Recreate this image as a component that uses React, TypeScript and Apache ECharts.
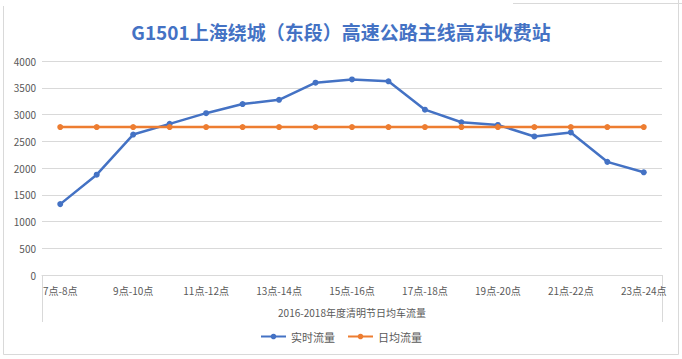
import React, { useEffect, useRef } from "react";
import * as echarts from "echarts";

const categories = [
  "7点-8点", "8点-9点", "9点-10点", "10点-11点", "11点-12点", "12点-13点",
  "13点-14点", "14点-15点", "15点-16点", "16点-17点", "17点-18点", "18点-19点",
  "19点-20点", "20点-21点", "21点-22点", "22点-23点", "23点-24点",
];
const realtimeFlow = [1325, 1875, 2625, 2825, 3025, 3195, 3275, 3595, 3655, 3620, 3090, 2855, 2805, 2590, 2665, 2115, 1920];
const dailyAvgFlow = [2765, 2765, 2765, 2765, 2765, 2765, 2765, 2765, 2765, 2765, 2765, 2765, 2765, 2765, 2765, 2765, 2765];
const seriesNames = ["实时流量", "日均流量"];
const titleText = "G1501上海绕城（东段）高速公路主线高东收费站";
const xAxisTitle = "2016-2018年度清明节日均车流量";

const FONT = "'Noto Sans CJK SC', 'Noto Sans', sans-serif";

export default function App() {
  const ref = useRef<HTMLDivElement>(null);
  useEffect(() => {
    if (!ref.current) return;
    const chart = echarts.init(ref.current, undefined, { renderer: "svg" });
    const grey = "#d9d9d9";
    chart.setOption({
      animation: false,
      backgroundColor: "#ffffff",
      textStyle: { fontFamily: FONT },
      title: {
        text: titleText,
        left: "center",
        top: 17,
        textStyle: { color: "#4472C4", fontSize: 19, fontWeight: "bold", fontFamily: FONT },
      },
      legend: {
        bottom: 12,
        left: "center",
        itemWidth: 25,
        itemHeight: 7,
        itemGap: 12,
        textStyle: { color: "#595959", fontSize: 11, fontFamily: FONT },
        data: seriesNames,
      },
      grid: { left: 42, right: 20, top: 61, bottom: 84, containLabel: false },
      xAxis: {
        type: "category",
        data: categories,
        boundaryGap: true,
        axisLine: { lineStyle: { color: grey } },
        axisTick: { show: false },
        axisLabel: { interval: 1, color: "#595959", fontSize: 10, margin: 10, fontFamily: FONT },
        name: xAxisTitle,
        nameLocation: "middle",
        nameGap: 32,
        nameTextStyle: { color: "#595959", fontSize: 10, fontFamily: FONT },
      },
      yAxis: {
        type: "value",
        min: 0,
        max: 4000,
        interval: 500,
        axisLine: { show: false },
        axisTick: { show: false },
        axisLabel: {
          color: "#595959",
          fontSize: 10,
          margin: 6,
          fontFamily: FONT,
          formatter: (v: number) => String(v),
        },
        splitLine: { lineStyle: { color: grey } },
      },
      series: [
        {
          name: seriesNames[0],
          type: "line",
          data: realtimeFlow,
          color: "#4472C4",
          symbol: "circle",
          symbolSize: 6,
          lineStyle: { width: 2.5, color: "#4472C4" },
          itemStyle: { color: "#4472C4" },
        },
        {
          name: seriesNames[1],
          type: "line",
          data: dailyAvgFlow,
          color: "#ED7D31",
          symbol: "circle",
          symbolSize: 6,
          lineStyle: { width: 2.5, color: "#ED7D31" },
          itemStyle: { color: "#ED7D31" },
        },
      ],
      graphic: [
        { type: "line", shape: { x1: 3.5, y1: 6, x2: 3.5, y2: 354.5 }, style: { stroke: grey, lineWidth: 1 } },
        { type: "line", shape: { x1: 678.5, y1: 0, x2: 678.5, y2: 354.5 }, style: { stroke: grey, lineWidth: 1 } },
        { type: "line", shape: { x1: 3.5, y1: 354.5, x2: 678.5, y2: 354.5 }, style: { stroke: grey, lineWidth: 1 } },
        { type: "line", shape: { x1: 513, y1: 3.5, x2: 682, y2: 3.5 }, style: { stroke: grey, lineWidth: 1 } },
        { type: "line", shape: { x1: 42.5, y1: 275, x2: 42.5, y2: 322 }, style: { stroke: grey, lineWidth: 1 } },
        { type: "line", shape: { x1: 662.5, y1: 275, x2: 662.5, y2: 322 }, style: { stroke: grey, lineWidth: 1 } },
      ],
    });
    return () => chart.dispose();
  }, []);
  return <div ref={ref} style={{ width: 682, height: 359, position: "absolute", left: 0, top: 0 }} />;
}
